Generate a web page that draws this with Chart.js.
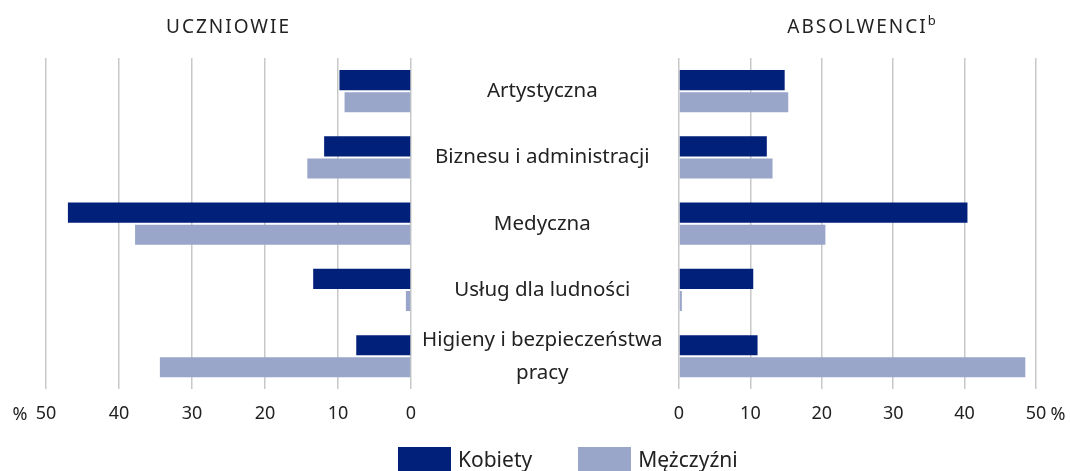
<!DOCTYPE html>
<html lang="pl">
<head>
<meta charset="UTF-8">
<title>Uczniowie i absolwenci</title>
<script src="https://cdn.jsdelivr.net/npm/chart.js"></script>
<style>
    body {
        margin: 0;
        background: #fff;
        font-family: "Noto Sans", sans-serif;
        color: #222;
    }
    .wrap {
        position: relative;
        width: 1070px;
        height: 471px;
        overflow: hidden;
    }
    #left {
        position: absolute;
        left: 0;
        top: 0;
    }
    #right {
        position: absolute;
        left: 650px;
        top: 0;
    }
    .legend {
        position: absolute;
        top: 447px;
        left: 398px;
        display: flex;
        font-size: 21px;
        line-height: 24px;
    }
    .legend span.box {
        display: inline-block;
        width: 53px;
        height: 24px;
        margin-right: 7px;
    }
    .legend .item {
        display: flex;
        align-items: flex-start;
        margin-right: 46px;
    }
</style>
</head>
<body>
<div class="wrap">
    <canvas id="left" width="678" height="456"></canvas>
    <canvas id="right" width="420" height="456"></canvas>
    <div class="legend">
        <div class="item"><span class="box" style="background:#00207a"></span>Kobiety</div>
        <div class="item"><span class="box" style="background:#99a6ca"></span>Mężczyźni</div>
    </div>
</div>
<script>
    const categories = ['Artystyczna', 'Biznesu i administracji', 'Medyczna', 'Usług dla ludności', ['Higieny i bezpieczeństwa', 'pracy']];
    const uczniowieKobiety = [9.8, 11.9, 47.0, 13.4, 7.5];
    const uczniowieMezczyzni = [9.1, 14.2, 37.8, 0.7, 34.4];
    const absolwenciKobiety = [14.8, 12.3, 40.4, 10.4, 11.0];
    const absolwenciMezczyzni = [15.3, 13.1, 20.5, 0.4, 48.5];
    const xTicks = [0, 10, 20, 30, 40, 50];

    const FONT = '"Noto Sans", sans-serif';
    const TEXT = '#222';
    const KOB = '#00207a';
    const MEZ = '#99a6ca';

    // title above the plot area + the "%" next to the 50 tick
    const extras = {
        id: 'extras',
        afterDraw(chart, args, opts) {
            const ctx = chart.ctx;
            const area = chart.chartArea;
            const x = chart.scales.x;
            ctx.save();
            ctx.fillStyle = TEXT;
            ctx.textBaseline = 'middle';
            ctx.textAlign = 'center';
            ctx.font = '19px ' + FONT;
            ctx.letterSpacing = '2px';
            ctx.fillText(opts.title, (area.left + area.right) / 2, 28);
            if (opts.sup) {
                const w = ctx.measureText(opts.title).width;
                ctx.font = '13px ' + FONT;
                ctx.letterSpacing = '0px';
                ctx.textAlign = 'left';
                ctx.fillText(opts.sup, (area.left + area.right) / 2 + w / 2, 21);
            }
            ctx.letterSpacing = '0px';
            ctx.font = '18px ' + FONT;
            ctx.textAlign = 'center';
            ctx.fillText('%', x.getPixelForValue(50) + opts.pctOffset, x.top + 14 + 11);
            ctx.restore();
        }
    };

    function makeOptions(side) {
        const left = side === 'left';
        return {
            responsive: false,
            animation: false,
            indexAxis: 'y',
            devicePixelRatio: 1,
            layout: {
                padding: left ? { top: 58, bottom: 17, left: 46, right: 0 } : { top: 58, bottom: 17, left: 29, right: 34 }
            },
            plugins: {
                legend: { display: false },
                tooltip: { enabled: false },
                extras: left ? { title: 'UCZNIOWIE', pctOffset: -26 } : { title: 'ABSOLWENCI', sup: 'b', pctOffset: 22 }
            },
            scales: {
                x: {
                    min: 0,
                    max: 50,
                    reverse: left,
                    afterBuildTicks: (scale) => { scale.ticks = xTicks.map(v => ({ value: v })); },
                    grid: { color: '#c8c8c8', lineWidth: 1.5, drawTicks: false },
                    border: { display: false },
                    ticks: { color: TEXT, font: { family: FONT, size: 18 }, padding: 14, maxRotation: 0 }
                },
                y: {
                    position: 'right',
                    display: left,
                    grid: { display: false },
                    border: { display: false },
                    afterFit: (scale) => { if (left) scale.width = 267; },
                    ticks: {
                        color: TEXT,
                        autoSkip: false,
                        crossAlign: 'center',
                        font: { family: FONT, size: 20.5, lineHeight: 1.6 }
                    }
                }
            }
        };
    }

    function makeData(k, m) {
        return {
            labels: categories,
            datasets: [
                { label: 'Kobiety', data: k, backgroundColor: KOB, categoryPercentage: 0.667, barPercentage: 0.91 },
                { label: 'Mężczyźni', data: m, backgroundColor: MEZ, categoryPercentage: 0.667, barPercentage: 0.91 }
            ]
        };
    }

    new Chart(document.getElementById('left'), {
        type: 'bar',
        data: makeData(uczniowieKobiety, uczniowieMezczyzni),
        options: makeOptions('left'),
        plugins: [extras]
    });

    new Chart(document.getElementById('right'), {
        type: 'bar',
        data: makeData(absolwenciKobiety, absolwenciMezczyzni),
        options: makeOptions('right'),
        plugins: [extras]
    });
</script>
</body>
</html>
